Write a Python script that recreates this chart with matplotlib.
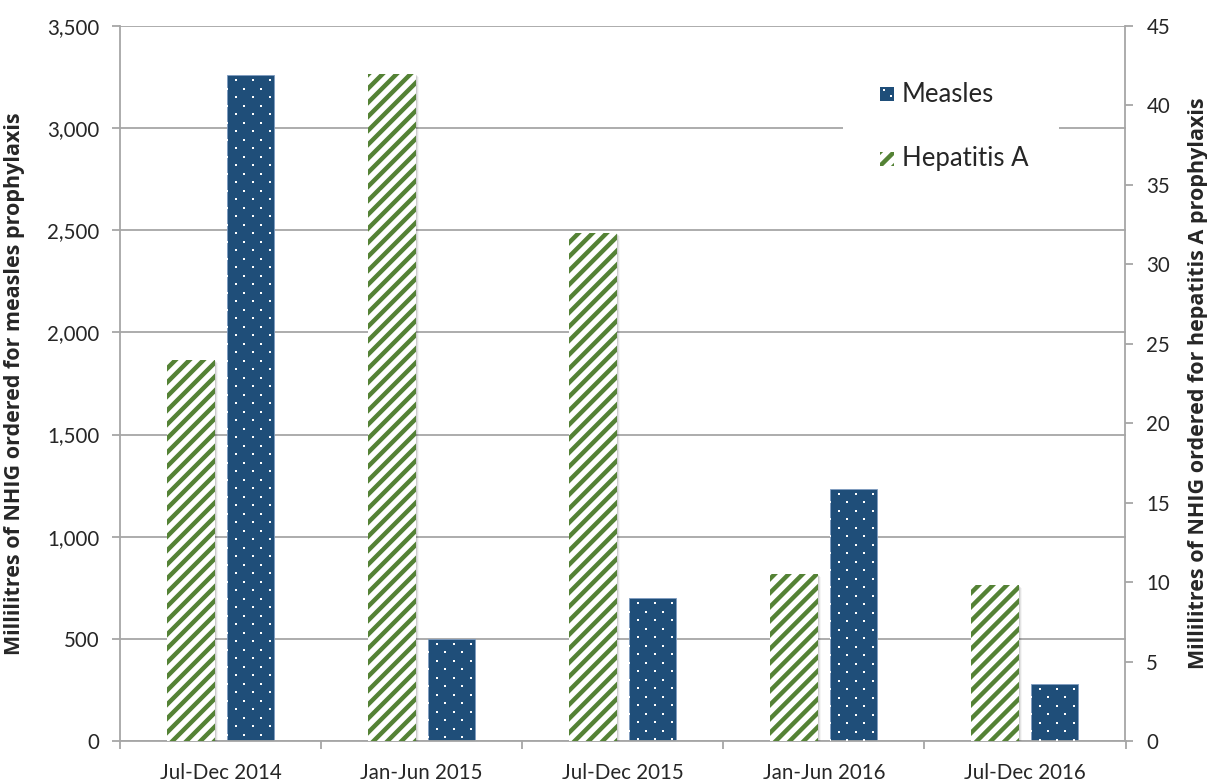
import numpy as np
import matplotlib
matplotlib.use("Agg")
import matplotlib.pyplot as plt
from matplotlib.patches import Rectangle
from matplotlib.collections import LineCollection
from matplotlib.ticker import FuncFormatter, MultipleLocator

plt.rcParams['font.family'] = ['Lato', 'DejaVu Sans']

# Half-year periods and NHIG volumes (mL)
periods = ["Jul-Dec 2014", "Jan-Jun 2015", "Jul-Dec 2015", "Jan-Jun 2016", "Jul-Dec 2016"]
measles_ml = [3260, 500, 700, 1235, 280]
hepatitis_a_ml = [24, 42, 32, 10.5, 9.8]

BLUE = "#1F4E79"
GREEN = "#548235"
GRID = "#A6A6A6"
TEXT = "#262626"
LABEL_FONT = ['Open Sans', 'DejaVu Sans']

W, H, DPI = 1207, 781, 100
fig = plt.figure(figsize=(W / DPI, H / DPI), dpi=DPI)
L, R, B, T = 120, 1125.5, 741, 26
ax = fig.add_axes([L / W, 1 - B / H, (R - L) / W, (B - T) / H])
ax2 = ax.twinx()

x = np.arange(len(periods))
bar_w = 0.236
off = 0.148

ax.set_xlim(-0.5, len(periods) - 0.5)
ax.set_ylim(0, 3500)
ax2.set_ylim(0, 45)

# Grid and axes styling
ax.yaxis.set_major_locator(MultipleLocator(500))
ax2.yaxis.set_major_locator(MultipleLocator(5))
ax.yaxis.set_major_formatter(FuncFormatter(lambda v, p: f"{int(v):,}"))
ax.grid(axis='y', color=GRID, linewidth=1.3, zorder=0)
ax.set_axisbelow(True)
for a in (ax, ax2):
    a.spines['top'].set_visible(False)
    for s in ('left', 'right', 'bottom'):
        a.spines[s].set_color(GRID)
        a.spines[s].set_linewidth(1.3)
ax.spines['right'].set_visible(False)
ax2.spines['left'].set_visible(False)
ax2.spines['bottom'].set_visible(False)

ax.set_xticks(np.arange(-0.5, len(periods) + 0.5, 1.0))
ax.set_xticklabels([])
ax.set_xticks(x, minor=True)
ax.set_xticklabels(periods, minor=True)
ax.tick_params(axis='x', which='major', length=6, width=1.3, color=GRID)
ax.tick_params(axis='x', which='minor', length=0, pad=16, labelsize=14.8, labelcolor=TEXT)
ax.tick_params(axis='y', length=6, width=1.3, color=GRID, labelsize=14.8, labelcolor=TEXT, pad=9)
ax2.tick_params(axis='y', length=6, width=1.3, color=GRID, labelsize=14.8, labelcolor=TEXT, pad=9)

ax.set_ylabel("Millilitres of NHIG ordered for measles prophylaxis",
              fontsize=15.5, fontweight='bold', color=TEXT, family=LABEL_FONT)
ax2.set_ylabel("Millilitres of NHIG ordered for hepatitis A prophylaxis",
               fontsize=15.5, fontweight='bold', color=TEXT, rotation=90, family=LABEL_FONT)
ax.yaxis.set_label_coords((25 - L) / (R - L), 0.5)
ax2.yaxis.set_label_coords((1188 - L) / (R - L), 0.5)

fig.canvas.draw()


def to_px(a, pts):
    return a.transData.transform(pts)


def to_data(a, pts):
    return a.transData.inverted().transform(pts)


# Measles bars: navy with a staggered white dot texture
meas_bars = ax.bar(x + off, measles_ml, width=bar_w, color=BLUE,
                   edgecolor="#7F9CC0", linewidth=0.6, zorder=2)
for bar in meas_bars:
    (px0, py0), (px1, py1) = to_px(ax, [(bar.get_x(), 0),
                                        (bar.get_x() + bar.get_width(), bar.get_height())])
    pts = []
    row = 0
    yy = py1 - 5
    while yy > py0:
        start = px0 + 9 if row % 2 == 0 else px0 + 0.5
        xs = np.arange(start, px1, 17.0)
        pts.extend([(xv, yy) for xv in xs])
        yy -= 8.5
        row += 1
    if pts:
        dpts = to_data(ax, np.array(pts))
        sc = ax.scatter(dpts[:, 0], dpts[:, 1], marker='s', s=2.2, color='white',
                        linewidths=0, zorder=3)
        sc.set_clip_path(bar)

# Hepatitis A bars: white with green diagonal stripes and a soft shadow
for xi, v in zip(x - off, hepatitis_a_ml):
    (px0, py0), (px1, py1) = to_px(ax2, [(xi - bar_w / 2, 0), (xi + bar_w / 2, v)])
    for k, alpha in zip((1, 2, 3), (0.10, 0.07, 0.04)):
        (sx0, sy0), (sx1, sy1) = to_data(ax2, [(px0 + k, py0 - k), (px1 + k, py1 - k)])
        ax2.add_patch(Rectangle((sx0, sy0), sx1 - sx0, sy1 - sy0, facecolor='black',
                                edgecolor='none', alpha=alpha, zorder=1.5))

hep_bars = ax2.bar(x - off, hepatitis_a_ml, width=bar_w, color='white',
                   edgecolor='none', zorder=2)
for bar in hep_bars:
    (px0, py0), (px1, py1) = to_px(ax2, [(bar.get_x(), 0),
                                         (bar.get_x() + bar.get_width(), bar.get_height())])
    segs = []
    span = px1 - px0
    c = py0 - span - 14
    while c < py1 + 14:
        p = np.array([(px0 - 2, c - 2), (px1 + 2, c + span + 2)])
        segs.append(to_data(ax2, p))
        c += 14.0
    lc = LineCollection(segs, colors=GREEN, linewidths=3.2, zorder=3)
    ax2.add_collection(lc)
    lc.set_clip_path(bar)

# Legend box covering the grid line
lx0, lx1, ly0, ly1 = 843, 1059, 198, 58
(dx0, dy0), (dx1, dy1) = to_data(ax2, [(lx0, H - ly0), (lx1, H - ly1)])
ax2.add_patch(Rectangle((dx0, dy0), dx1 - dx0, dy1 - dy0, facecolor='white',
                        edgecolor='none', zorder=5))


def legend_entry(cy, label, kind):
    (ex0, ey0), (ex1, ey1) = to_data(ax2, [(880, H - cy - 7), (894, H - cy + 7)])
    if kind == 'measles':
        ax2.add_patch(Rectangle((ex0, ey0), ex1 - ex0, ey1 - ey0, facecolor=BLUE,
                                edgecolor='none', zorder=6))
        for (qx, qy) in [(884, cy - 4), (891, cy + 2)]:
            d = to_data(ax2, [(qx, H - qy)])[0]
            ax2.scatter([d[0]], [d[1]], marker='s', s=2.2, color='white',
                        linewidths=0, zorder=7)
    else:
        r = Rectangle((ex0, ey0), ex1 - ex0, ey1 - ey0, facecolor='white',
                      edgecolor='none', zorder=6)
        ax2.add_patch(r)
        segs = []
        for c in (-14, 0, 14):
            segs.append(to_data(ax2, [(878, H - cy - 9 + c), (896, H - cy + 9 + c)]))
        lc = LineCollection(segs, colors=GREEN, linewidths=3.2, zorder=7)
        ax2.add_collection(lc)
        lc.set_clip_path(r)
    tx, ty = to_data(ax2, [(902, H - cy)])[0]
    ax2.text(tx, ty, label, fontsize=18.5, color=TEXT, va='center', ha='left', zorder=8)


legend_entry(94, "Measles", 'measles')
legend_entry(159, "Hepatitis A", 'hep')

fig.savefig("out.png", dpi=DPI)
